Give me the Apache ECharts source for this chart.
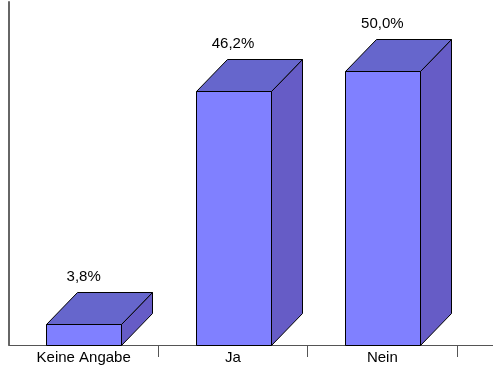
<!DOCTYPE html>
<html>
<head>
<meta charset="utf-8">
<script src="https://cdn.jsdelivr.net/npm/echarts@6/dist/echarts.min.js"></script>
<style>
  html, body { margin: 0; padding: 0; background: #fff; }
  #chart { width: 493px; height: 368px; }
</style>
</head>
<body>
<div id="chart"></div>
<script>
// Antwortverteilung in Prozent
const categories = ['Keine Angabe', 'Ja', 'Nein'];
const values = [3.8, 46.2, 50.0];
const valueLabels = ['3,8%', '46,2%', '50,0%'];

// Look of the extruded bars
const FRONT = '#8080ff';
const TOP = '#6666cc';
const SIDE = '#665cc6';
const DEPTH_X = 31;
const DEPTH_Y = 32;
const BAR_WIDTH = 75;
const FONT = '"Liberation Sans", Arial, sans-serif';

const chart = echarts.init(document.getElementById('chart'), null, { renderer: 'canvas' });

function renderBar(params, api) {
  const idx = api.value(0);
  const val = api.value(1);
  const base = api.coord([idx, 0]);
  const top = api.coord([idx, val]);
  const x0 = Math.round(base[0] - BAR_WIDTH / 2) + 0.5;
  const x1 = x0 + BAR_WIDTH;
  const yb = Math.round(base[1]) + 0.5;
  const yt = Math.round(top[1]) + 0.5;
  const edge = { stroke: '#000', lineWidth: 1 };
  return {
    type: 'group',
    children: [
      {
        type: 'polygon',
        shape: { points: [[x1, yb], [x1 + DEPTH_X, yb - DEPTH_Y], [x1 + DEPTH_X, yt - DEPTH_Y], [x1, yt]] },
        style: Object.assign({ fill: SIDE }, edge)
      },
      {
        type: 'polygon',
        shape: { points: [[x0, yt], [x0 + DEPTH_X, yt - DEPTH_Y], [x1 + DEPTH_X, yt - DEPTH_Y], [x1, yt]] },
        style: Object.assign({ fill: TOP }, edge)
      },
      {
        type: 'rect',
        shape: { x: x0, y: yt, width: BAR_WIDTH, height: yb - yt },
        style: Object.assign({ fill: FRONT }, edge)
      },
      {
        type: 'text',
        style: {
          text: valueLabels[idx],
          x: base[0],
          y: yt - DEPTH_Y - 16,
          align: 'center',
          verticalAlign: 'middle',
          fill: '#000',
          font: '15px ' + FONT
        }
      }
    ]
  };
}

chart.setOption({
  animation: false,
  grid: { left: 9, right: 36, top: 2, bottom: 23 },
  xAxis: {
    type: 'category',
    data: categories,
    axisLine: { lineStyle: { color: '#555', width: 1 } },
    axisTick: { show: true, length: 12, interval: (i) => i !== 0, lineStyle: { color: '#555' } },
    axisLabel: {
      color: '#000',
      fontSize: 15,
      fontFamily: FONT,
      margin: 5
    }
  },
  yAxis: {
    type: 'value',
    min: 0,
    max: 62.5,
    splitLine: { show: false },
    axisTick: { show: false },
    axisLabel: { show: false },
    axisLine: { show: true, lineStyle: { color: '#666', width: 2 } }
  },
  series: [{
    type: 'custom',
    renderItem: renderBar,
    data: values.map((v, i) => [i, v]),
    encode: { x: 0, y: 1 }
  }]
});

// Extend the baseline to the right edge of the page
const baseY = Math.round(chart.convertToPixel({ yAxisIndex: 0 }, 0)) + 0.5;
const gridRightPx = 493 - 36;
chart.setOption({
  graphic: [{
    type: 'line',
    shape: { x1: gridRightPx, y1: baseY, x2: 493, y2: baseY },
    style: { stroke: '#555', lineWidth: 1 },
    silent: true
  }]
});
</script>
</body>
</html>
